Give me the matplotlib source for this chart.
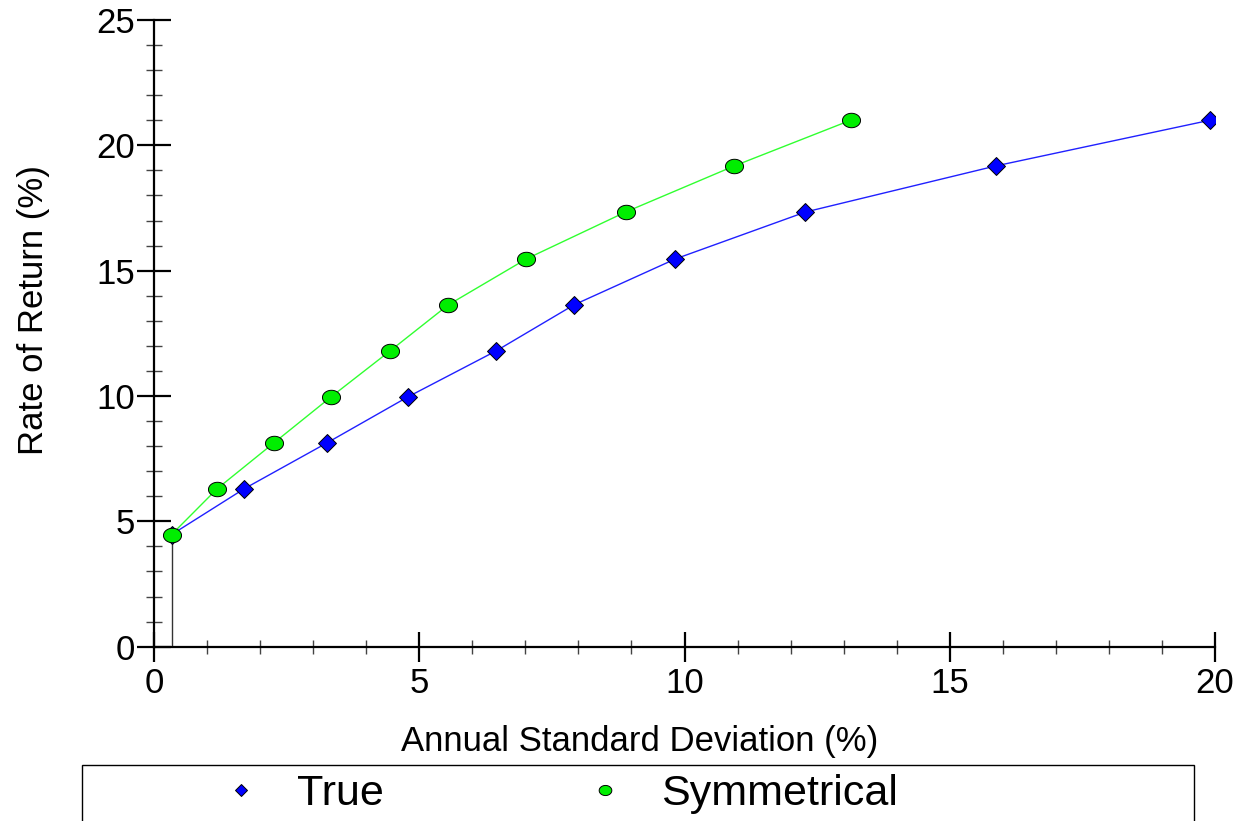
import numpy as np
import matplotlib.pyplot as plt
from matplotlib.path import Path
from matplotlib.patches import Rectangle

plt.rcParams['font.family'] = ['Liberation Sans', 'DejaVu Sans']

# values
true_sd = [0.33, 1.70, 3.26, 4.79, 6.45, 7.92, 9.83, 12.28, 15.87, 19.90]
true_ret = [4.47, 6.30, 8.13, 9.97, 11.80, 13.64, 15.47, 17.34, 19.18, 21.00]
sym_sd = [0.33, 1.19, 2.26, 3.34, 4.45, 5.55, 7.02, 8.89, 10.94, 13.13]
sym_ret = [4.47, 6.30, 8.13, 9.97, 11.80, 13.64, 15.47, 17.34, 19.18, 21.00]

# flattened circle marker (the original draws them as ellipses)
t = np.linspace(0, 2*np.pi, 60)
ellipse = Path(np.column_stack([np.cos(t), 0.8*np.sin(t)]), closed=True)

fig = plt.figure(figsize=(12.43, 8.21), dpi=100)
ax = fig.add_axes([154/1243, 1 - 646.7/821, (1215-154)/1243, (646.7-20)/821])

ax.plot([true_sd[0], true_sd[0]], [0, true_ret[0]], color='#333333', lw=1)
ax.plot(true_sd, true_ret, color='#2020ff', lw=1, marker='D', ms=9,
        mfc='#0000ff', mec='black', mew=0.7, label='True', zorder=3)
ax.plot(sym_sd, sym_ret, color='#30ff30', lw=1, marker=ellipse, ms=13,
        mfc='#00ee00', mec='black', mew=0.7, label='Symmetrical', zorder=4)

ax.set_xlim(0, 20)
ax.set_ylim(0, 25)
ax.set_xticks(range(0, 21, 5))
ax.set_yticks(range(0, 26, 5))
ax.set_xticks(range(0, 21), minor=True)
ax.set_yticks(range(0, 26), minor=True)

for s in ['top', 'right']:
    ax.spines[s].set_visible(False)
for s in ['left', 'bottom']:
    ax.spines[s].set_linewidth(1.6)

ax.tick_params(axis='y', which='major', direction='inout', length=25, width=1.6,
               labelsize=25, pad=1)
ax.tick_params(axis='y', which='minor', direction='inout', length=12, width=1,
               color='#444444')
ax.tick_params(axis='x', which='major', direction='inout', length=21, width=1.6,
               labelsize=25, pad=4)
ax.tick_params(axis='x', which='minor', direction='inout', length=10, width=1,
               color='#444444')

ax.set_xlabel('Annual Standard Deviation (%)', fontsize=25, va='center')
ax.set_ylabel('Rate of Return (%)', fontsize=25, va='center', ha='center')
ax.xaxis.set_label_coords(0.458, -0.152)
ax.yaxis.set_label_coords(-0.114, 0.537)

fig.patches.append(Rectangle((82/1243, -0.02), (1194-82)/1243, 0.02 + 1 - 765/821,
                             transform=fig.transFigure, fill=False,
                             edgecolor='black', lw=1))
leg = fig.legend(handles=ax.get_lines()[1:], loc='center left',
                 bbox_to_anchor=(219/1243, 1 - 794/821), ncol=2, frameon=False,
                 fontsize=31, handlelength=1.0, handletextpad=0.8,
                 columnspacing=4.65, borderpad=0, borderaxespad=0, markerscale=0.7)
for h in leg.legend_handles:
    h.set_linestyle('none')

fig.savefig('out.png', dpi=100)
